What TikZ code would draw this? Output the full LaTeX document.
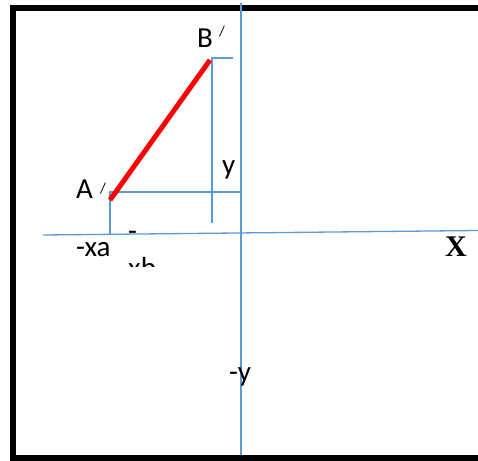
\documentclass[tikz,border=0pt]{standalone}
\usepackage{fontspec}
\setmainfont{Carlito}
\newfontfamily\xfont{Liberation Serif Bold}
\begin{document}
\begin{tikzpicture}[x=1pt,y=-1pt,
  axis/.style={draw={rgb,255:red,91;green,155;blue,213},line width=1.3pt},
  lbl/.style={inner sep=0pt,anchor=base west,font=\fontsize{29}{35}\selectfont},
  prm/.style={inner sep=0pt,anchor=base west,font=\fontsize{15}{17}\selectfont}]
\useasboundingbox (0,0) rectangle (478,460);
\begin{scope}
\clip (0,0) rectangle (478,460);
\draw[line width=6pt] (13,8) rectangle (490,458);
\end{scope}
% coordinates
\coordinate (ytop) at (241,3);
\coordinate (ybot) at (241,455);
\coordinate (xl) at (43,235);
\coordinate (xr) at (478,230.5);
\coordinate (A) at (110,200);
\coordinate (B) at (210,60);
\coordinate (Ah) at (110,192);
\coordinate (Ahr) at (241,192);
\coordinate (Av) at (110,235);
\coordinate (Bt) at (212,58);
\coordinate (Bb) at (212,223);
\coordinate (Btr) at (233,58);
% axes and guides
\draw[axis] (ytop) -- (ybot);
\draw[axis] (xl) -- (xr);
\draw[axis] (Ahr) -- (Ah) -- (Av);
\draw[axis] (Btr) -- (Bt) -- (Bb);
% red segment
\draw[red,line width=5pt] (A) -- (B);
% labels
\node[lbl] (lB) at (197,48) {B};
\node[prm] (pB) at (219,37) {/};
\node[lbl] (lA) at (76,198) {A};
\node[prm] (pA) at (100,193) {/};
\node[lbl] (ly) at (222,174) {y};
\node[lbl] (lxa) at (76,256) {-xa};
\node[lbl] (lmy) at (229,381) {-y};
\node[inner sep=0pt,anchor=base,font=\xfont\fontsize{30}{34}\selectfont] (lX) at (456,256) {X};
\begin{scope}
\clip (100,200) rectangle (200,266);
\node[lbl] (lm) at (128,240) {-};
\node[lbl] (lxb) at (128,277) {xb};
\end{scope}
\end{tikzpicture}
\end{document}
